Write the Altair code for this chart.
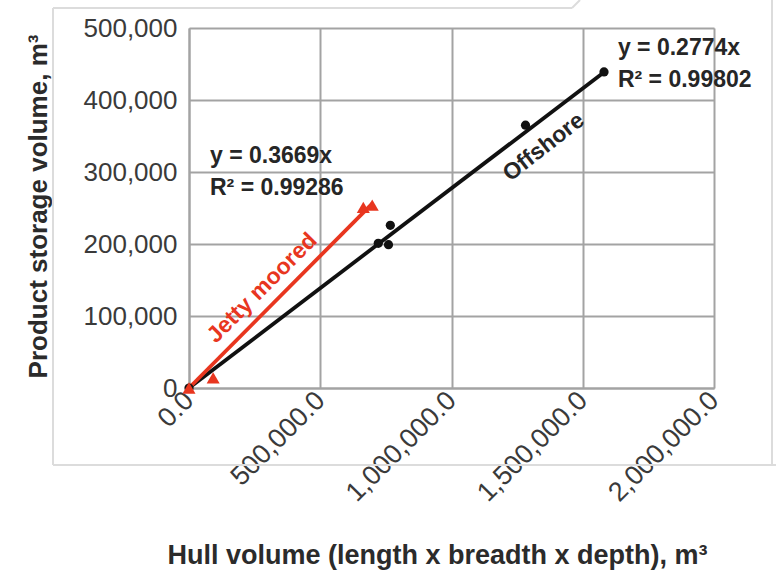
import altair as alt
import pandas as pd

# Hull volume (length x breadth x depth) and product storage volume, m³
offshore_hull = [0, 721000, 760000, 767000, 1282000, 1581000]
offshore_storage = [0, 201000, 199000, 226000, 365000, 439000]
jetty_hull = [0, 92000, 664000, 698000]
jetty_storage = [0, 14000, 251000, 254000]

# Zero-intercept linear trendlines
offshore_slope = 0.2774
offshore_r2 = "0.99802"
jetty_slope = 0.3669
jetty_r2 = "0.99286"

x_ticks = [0, 500000, 1000000, 1500000, 2000000]
y_ticks = [0, 100000, 200000, 300000, 400000, 500000]

RED = "#e8361f"
BLACK = "#111111"
GRID = "#a3a3a3"
REG = "Liberation Sans, Arial, Helvetica, sans-serif"

W, H = 525, 360

off_df = pd.DataFrame({"hull": offshore_hull, "storage": offshore_storage})
jet_df = pd.DataFrame({"hull": jetty_hull, "storage": jetty_storage})

trend_off = pd.DataFrame({
    "hull": [0, max(offshore_hull)],
    "storage": [0, offshore_slope * max(offshore_hull)],
})
trend_jet = pd.DataFrame({
    "hull": [0, max(jetty_hull)],
    "storage": [0, jetty_slope * max(jetty_hull)],
})

x_scale = alt.Scale(domain=[0, 2000000], nice=False, zero=True)
y_scale = alt.Scale(domain=[0, 500000], nice=False, zero=True)

x_axis = alt.Axis(
    values=x_ticks, format=",.1f", labelAngle=315, labelAlign="right",
    labelBaseline="middle", labelPadding=8, labelFont=REG, labelFontSize=27,
    labelColor="#3a3a3a", ticks=False, domainColor=GRID, domainWidth=2,
    gridColor=GRID, gridWidth=2, labelOverlap=False,
    title="Hull volume (length x breadth x depth), m³",
    titleFont=REG, titleFontSize=27, titleFontWeight="bold", titleColor="#2b2b2b",
    titleX=248, titleY=175, titleAnchor="middle", titleAlign="center",
    titleBaseline="alphabetic",
)
y_axis = alt.Axis(
    values=y_ticks, format=",d", labelPadding=12, labelFont=REG, labelFontSize=26,
    labelColor="#3a3a3a", ticks=False, domainColor=GRID, domainWidth=2,
    gridColor=GRID, gridWidth=2,
    title="Product storage volume, m³",
    titleFont=REG, titleFontSize=26, titleFontWeight="bold", titleColor="#2b2b2b",
    titleX=-143, titleY=178, titleAngle=270, titleAlign="center",
    titleBaseline="alphabetic",
)

X = alt.X("hull:Q", scale=x_scale, axis=x_axis)
Y = alt.Y("storage:Q", scale=y_scale, axis=y_axis)

off_line = alt.Chart(trend_off).mark_line(color=BLACK, strokeWidth=3.8).encode(x=X, y=Y)
jet_line = alt.Chart(trend_jet).mark_line(color=RED, strokeWidth=3.8).encode(x=X, y=Y)

off_pts = alt.Chart(off_df).mark_point(
    shape="circle", filled=True, color=BLACK, size=85, opacity=1
).encode(x=X, y=Y)
jet_pts = alt.Chart(jet_df).mark_point(
    shape="triangle-up", filled=True, color=RED, size=170, opacity=1
).encode(x=X, y=Y)

# Trendline equations
eq_df = pd.DataFrame({
    "hull": [1634000, 1634000, 80000, 80000],
    "storage": [462500, 418000, 312500, 268000],
    "label": [f"y = {offshore_slope}x", f"R² = {offshore_r2}",
              f"y = {jetty_slope}x", f"R² = {jetty_r2}"],
})
eqs = alt.Chart(eq_df).mark_text(
    align="left", baseline="alphabetic", font=REG, fontWeight="bold",
    fontSize=23, color="#262626"
).encode(x=X, y=Y, text="label:N")

jet_name = alt.Chart(pd.DataFrame({"hull": [278600], "storage": [138900],
                                   "label": ["Jetty moored"]})).mark_text(
    align="center", baseline="middle", font=REG, fontWeight="bold",
    fontSize=23, color=RED, angle=315
).encode(x=X, y=Y, text="label:N")

off_name = alt.Chart(pd.DataFrame({"hull": [1351000], "storage": [334700],
                                   "label": ["Offshore"]})).mark_text(
    align="center", baseline="middle", font=REG, fontWeight="bold",
    fontSize=23, color="#262626", angle=322
).encode(x=X, y=Y, text="label:N")

# Light panel outline around the figure
one = pd.DataFrame({"k": [0]})
FRAME = "#dcdcdc"
def frame_rule(x1, x2, y1, y2):
    return alt.Chart(one).mark_rule(color=FRAME, strokeWidth=2).encode(
        x=alt.value(x1), x2=alt.value(x2), y=alt.value(y1), y2=alt.value(y2))

frame = [
    frame_rule(-136, 383, -20, -20),
    frame_rule(383, 391, -20, -28),
    frame_rule(-136, -136, -20, 437),
    frame_rule(-136, 590, 437, 437),
    frame_rule(583, 583, -28, 437),
]

chart = alt.layer(
    *frame, off_line, jet_line, off_pts, jet_pts, eqs, jet_name, off_name
).properties(
    width=W, height=H,
    autosize=alt.AutoSizeParams(type="none"),
    padding={"left": 189, "top": 28, "right": 62, "bottom": 187},
).configure_view(stroke=None).configure(background="white")

chart.save("out.html", embed_options={"renderer": "svg", "actions": False})
